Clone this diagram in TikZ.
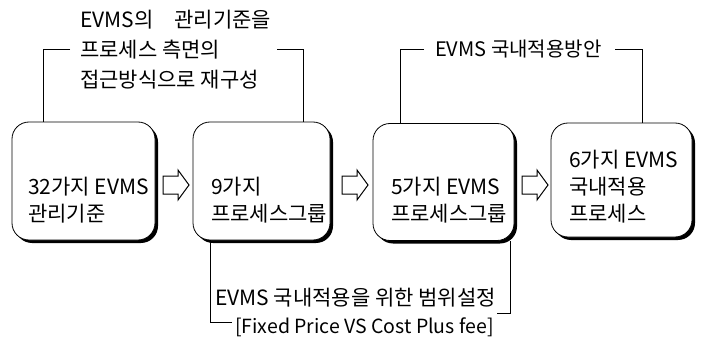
\documentclass[tikz,border=0pt]{standalone}
\usepackage{fontspec}
\setmainfont{Noto Sans CJK KR}
\usetikzlibrary{shadows}
\newcommand\hollowarrow[1]{%
  \draw[line width=1pt,fill=white,line join=miter] ([shift={(-13,-9)}]#1) -- ([shift={(2,-9)}]#1) -- ([shift={(2,-15)}]#1)
    -- ([shift={(13,0)}]#1) -- ([shift={(2,15)}]#1) -- ([shift={(2,9)}]#1) -- ([shift={(-13,9)}]#1) -- cycle;}
\begin{document}
\begin{tikzpicture}[x=1pt,y=-1pt,
  stagebox/.style={draw=black,line width=0.8pt,fill=white,rounded corners=17pt,inner sep=0pt,
    drop shadow={shadow xshift=3pt,shadow yshift=-3pt,fill=black,opacity=1}},
  txt/.style={anchor=west,inner sep=0pt,align=left,font=\fontsize{21}{27}\selectfont},
  lbl/.style={anchor=west,inner sep=0pt,align=left,font=\fontsize{21}{30}\selectfont},
  wire/.style={line width=0.8pt,draw=black}]
\useasboundingbox (0,0) rectangle (704,342);
% boxes
\node[stagebox,minimum width=143pt,minimum height=118pt] (b1) at (83.5,181) {};
\node[stagebox,minimum width=137pt,minimum height=118pt] (b2) at (261.5,181) {};
\node[stagebox,minimum width=141pt,minimum height=117pt] (b3) at (443.5,182) {};
\node[stagebox,minimum width=141pt,minimum height=114pt] (b4) at (621.5,180) {};
% box texts
\node[txt] (t1) at (28,200) {32가지 EVMS\\관리기준};
\node[txt] (t2) at (211,200) {9가지\\프로세스그룹};
\node[txt] (t3) at (391,200) {5가지 EVMS\\프로세스그룹};
\node[txt] (t4) at (569,187) {6가지 EVMS\\국내적용\\프로세스};
% arrows
\coordinate (a1) at (176,185);
\coordinate (a2) at (355,185);
\coordinate (a3) at (535,185);
\hollowarrow{a1}
\hollowarrow{a2}
\hollowarrow{a3}
% top label 1
\node[lbl] (L1) at (80,50) {EVMS의\hspace{1em}관리기준을\\프로세스 측면의\\접근방식으로 재구성};
\coordinate (p1a) at (43,49);
\coordinate (p1b) at (70,49);
\coordinate (p1c) at (277,49);
\coordinate (p1d) at (303,49);
\draw[wire] (p1b) -- (p1a) -- (p1a |- b1.north);
\draw[wire] (p1c) -- (p1d) -- (p1d |- b2.north);
% top label 2
\node[lbl,font=\fontsize{20}{30}\selectfont] (L2) at (435,49) {EVMS 국내적용방안};
\coordinate (p2a) at (400,49);
\coordinate (p2b) at (424,49);
\coordinate (p2c) at (615,49);
\coordinate (p2d) at (642,49);
\draw[wire] (p2b) -- (p2a) -- (p2a |- b3.north);
\draw[wire] (p2c) -- (p2d) -- (p2d |- b4.north);
% bottom label
\node[lbl] (L3) at (215,298) {EVMS 국내적용을 위한 범위설정};
\node[lbl,font=\fontsize{19.5}{22}\selectfont] (L4) at (235,327) {[Fixed Price VS Cost Plus fee]};
\coordinate (p3a) at (210,322);
\coordinate (p3b) at (232,322);
\coordinate (p3c) at (510,313);
\coordinate (p3d) at (497,313);
\draw[wire] (p3a |- b2.south) -- (p3a) -- (p3b);
\draw[wire] (p3c |- b3.south) -- (p3c) -- (p3d);
\end{tikzpicture}
\end{document}
